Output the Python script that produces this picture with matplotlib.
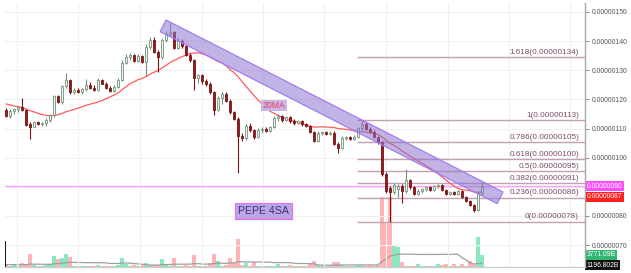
import matplotlib
matplotlib.use("Agg")
import matplotlib.pyplot as plt
import numpy as np
from matplotlib.patches import Polygon

plt.rcParams['font.family'] = ['Liberation Sans', 'DejaVu Sans']

# ---- data (prices in units of 1e-8) ----
opens = [116.4,114.3,116.0,116.6,117.3,116.4,111.6,110.6,112.2,111.5,111.9,113.0,114.5,121.0,119.0,124.6,126.6,122.5,123.3,122.6,
         123.4,124.8,124.0,123.2,126.6,125.4,124.0,123.0,124.4,126.8,132.6,134.6,135.2,133.2,135.0,133.0,138.0,140.4,136.2,134.5,
         140.4,142.6,143.2,137.8,140.2,138.4,135.4,133.6,127.3,128.4,126.4,125.2,122.5,116.5,120.5,121.8,119.6,115.5,113.4,107.5,
         106.8,111.0,109.4,107.0,109.6,110.0,109.2,110.6,113.6,114.2,113.0,113.8,112.6,111.8,112.6,111.4,110.8,108.8,105.8,108.4,
         108.8,108.2,108.6,104.6,103.4,106.8,107.0,106.4,107.2,110.2,111.4,110.0,108.8,107.0,105.2,94.4,89.6,88.2,89.4,90.2,
         88.4,92.2,90.0,87.6,88.6,89.2,89.8,89.0,90.2,90.6,89.0,87.6,88.2,87.4,88.4,86.4,85.2,83.8,82.0,87.8]
highs = [117.0,116.8,117.0,117.8,120.5,116.8,112.2,112.6,112.6,112.4,113.5,115.0,121.5,121.6,125.0,129.1,127.0,123.8,123.9,123.8,
         127.0,126.0,124.8,127.4,127.0,125.8,124.6,125.0,127.2,133.5,135.6,136.0,135.6,135.6,135.4,139.0,141.5,141.5,137.0,141.0,
         143.6,146.2,143.6,141.0,140.6,138.8,135.8,134.0,128.8,128.8,127.0,125.8,123.0,121.0,122.5,122.4,120.0,116.0,114.0,108.6,
         111.6,111.8,109.8,110.2,110.6,110.6,111.0,114.2,115.0,114.6,114.4,114.2,113.2,113.0,113.0,111.8,111.2,109.2,109.2,109.0,
         109.2,109.0,109.0,105.2,107.4,107.4,107.4,107.6,110.6,112.9,112.2,110.6,109.4,107.4,105.6,95.0,90.2,91.4,90.8,90.8,
         96.1,92.6,90.4,89.2,89.6,90.4,90.4,90.6,91.0,91.0,89.4,88.6,88.6,88.8,88.8,86.8,85.6,84.0,88.4,91.6]
lows = [113.8,113.5,115.0,115.6,116.0,111.0,106.4,110.4,111.2,110.8,111.0,112.4,114.0,118.6,118.5,124.0,122.0,122.0,122.2,122.0,
        123.0,123.6,122.8,122.8,125.2,123.5,122.6,122.6,124.0,126.2,132.0,133.4,132.8,132.8,132.6,128.0,137.4,135.8,129.5,134.0,
        139.8,141.6,137.2,137.2,137.8,135.0,133.0,123.2,125.6,125.3,124.6,121.8,114.6,116.0,118.5,119.0,115.0,112.8,94.7,105.8,
        106.2,108.8,106.4,106.6,108.6,108.8,108.8,110.2,112.6,112.4,112.6,112.0,111.2,111.4,111.0,110.4,108.4,105.2,105.4,107.6,
        107.8,107.8,104.2,101.6,103.0,106.0,106.0,106.0,106.8,109.6,109.4,108.4,106.6,104.8,93.8,88.0,78.0,87.4,86.6,84.4,
        88.0,89.4,87.0,87.0,88.0,88.6,88.6,88.6,89.6,88.6,87.2,87.0,87.0,87.0,86.0,84.6,83.4,81.3,81.6,87.2]
closes = [114.3,116.0,116.6,117.3,116.4,111.3,110.6,112.2,111.5,111.9,113.0,114.5,121.0,119.0,124.6,126.6,122.5,123.3,122.6,123.4,
          124.8,124.0,123.2,126.6,125.4,124.0,123.0,124.4,126.8,132.6,134.6,135.2,133.2,135.0,133.0,138.0,140.4,136.2,134.5,140.4,
          142.6,143.2,137.8,140.2,138.4,135.4,133.6,127.3,128.4,126.4,125.2,122.5,116.5,120.5,121.8,119.6,115.5,113.4,107.5,106.8,
          111.0,109.4,107.0,109.6,110.0,109.2,110.6,113.6,114.2,113.0,113.8,112.6,111.8,112.6,111.4,110.8,108.8,105.8,108.4,108.8,
          108.2,108.6,104.6,103.4,106.8,107.0,106.4,107.2,110.2,111.4,110.0,108.8,107.0,105.2,94.4,88.6,88.2,90.6,90.4,88.4,
          92.2,90.0,87.6,88.6,89.2,89.8,89.0,90.2,90.6,89.0,87.6,88.2,87.4,88.4,86.4,85.2,83.8,82.0,87.8,90.2]
# closes before the visible window (used only for the 20-period moving average)
prior_closes = [123.0,123.5,122.5,122.0,121.5,122.0,121.0,120.5,120.0,119.0,118.0,117.0,116.0,115.5,115.0,114.5,115.0,114.0,114.5]

# volume in billions
volumes = [940,310,630,310,1260,630,4080,630,310,310,630,940,3450,2510,2830,4080,3140,310,310,310,
           310,310,310,630,310,310,310,310,630,2830,940,310,630,310,630,1260,630,630,630,2510,
           940,310,2830,310,310,630,310,3770,310,310,310,1260,4080,1880,310,630,2830,1260,8790,630,
           1260,310,1570,310,310,310,310,310,940,310,310,630,310,310,310,310,1260,1880,630,310,
           310,310,1570,1570,630,310,310,310,630,630,310,630,310,630,21980,14130,21980,6590,6280,1570,
           310,310,310,940,310,310,310,310,940,630,940,310,940,310,940,310,1880,940,9420,3771]
prior_volumes = [630,940,630,940,630,630,940,630,940,630,940,630,630,940,630,940,630,630,940]

fib_ratios = [0, 0.236, 0.382, 0.5, 0.618, 0.786, 1, 1.618]
fib_low, fib_high = 78.0, 112.9
price_ticks = [70, 80, 90, 100, 110, 120, 130, 140, 150]
last_price = 90.26
right_labels = [("0.00000090", 90.26, "#ff4dff"), ("0.00000087", 86.65, "#ff2020")]
vol_labels = [("3771.09B", 3771, "#2eb872"), ("1196.802B", 620, "#111111")]
# descending channel drawing: (bar index, price) anchors of the upper edge, band height in price
channel_start = (40.0, 147.25)
channel_end = (124.25, 88.2)
channel_depth = 4.0
channel_shift = 1.45

N = len(closes)
idx = np.arange(N)
o = np.array(opens); h = np.array(highs); l = np.array(lows); c = np.array(closes)
up = c >= o

allc = np.array(prior_closes + closes)
ma20 = np.convolve(allc, np.ones(20) / 20, mode='valid')
allv = np.array(prior_volumes + volumes, dtype=float)
vma20 = np.convolve(allv, np.ones(20) / 20, mode='valid')

# ---- figure ----
W, H = 631, 273
fig = plt.figure(figsize=(W / 100, H / 100), dpi=100)
fig.patch.set_facecolor('white')
ax = fig.add_axes([5 / W, 6 / H, 580 / W, 264 / H])
vax = ax.twinx()
ax.set_zorder(2)
ax.patch.set_visible(False)
vax.set_zorder(1)

ax.set_xlim(-0.25, 144.75)
ax.set_ylim(62.45, 153.09)
vax.set_ylim(0, 264 * 314)

# grid
grid_x = [2.75, 18.1, 33.5, 48.9, 64.25, 79.6, 95.0, 110.4, 125.75, 141.1]
for gx in grid_x:
    ax.axvline(gx, color='#f0f0f0', lw=0.8, zorder=0)
for gy in price_ticks:
    ax.axhline(gy, color='#f0f0f0', lw=0.8, zorder=0)

# volume
vcol = np.where(up, '#8de8bf', '#ffb5b5')
vax.bar(idx, volumes, width=0.78, color=vcol, linewidth=0)
vax.plot(idx, vma20, color='#a0a0a0', lw=0.9)
vax.set_yticks([])
for s in vax.spines.values():
    s.set_visible(False)

# magenta price line
ax.axhline(last_price, color='#ffa0ff', lw=1.0, zorder=1)

# fib levels
for r in fib_ratios:
    lv = fib_low + r * (fib_high - fib_low)
    ax.plot([87.75, 144.75], [lv, lv], color='#c4a0b2', lw=1.0, zorder=2, solid_capstyle='butt')
    ax.text(143.25, lv + 0.45, f"{r:g}({lv * 1e-8:.8f})", ha='right', va='bottom',
            fontsize=5.9, color='#7a4d68', zorder=3)

# MA line
ax.plot(idx, ma20, color='#ff5a5a', lw=0.9, zorder=4)

# candles
wick_col = np.where(up, '#6f9279', '#7c1414')
ax.vlines(idx, l, h, colors=wick_col, lw=0.8, zorder=5)
body_bottom = np.minimum(o, c)
body_h = np.maximum(np.abs(c - o), 0.25)
ax.bar(idx, body_h, bottom=body_bottom, width=0.72,
       color=np.where(up, '#eef4ef', '#8e1b1b'),
       edgecolor=np.where(up, '#6f9279', '#7c1414'), linewidth=0.6, zorder=6)

# channel
(x0, y0), (x1, y1) = channel_start, channel_end
poly = [(x0, y0), (x1, y1), (x1 - channel_shift, y1 - channel_depth), (x0 - channel_shift, y0 - channel_depth)]
ax.add_patch(Polygon(poly, closed=True, facecolor=(0.56, 0.46, 0.80, 0.55),
                     edgecolor='#a57cf0', lw=0.9, zorder=7))

# annotations
ax.text(67.0, 117.9, "20MA", fontsize=6.2, color='#f03c50', ha='center', va='center', zorder=8,
        bbox=dict(boxstyle='square,pad=0.15', fc='#c8b6ea', ec='none'))
ax.text(64.4, 81.7, "PEPE 4SA", fontsize=7.6, color='#43307f', ha='center', va='center', zorder=8,
        bbox=dict(boxstyle='square,pad=0.3', fc='#b9a6e2', ec='#e86cf2', lw=0.8))

# left marker line in volume area
ax.axvline(-0.25, ymin=0, ymax=0.095, color='black', lw=1.3, zorder=9)

# axes styling (the 0.00000090 tick label sits under the magenta price box, as in the reference)
ax.set_xticks([])
ax.yaxis.tick_right()
ax.set_yticks(price_ticks)
ax.set_yticklabels(["" if v == 90 else f"{v * 1e-8:.8f}" for v in price_ticks])
ax.tick_params(axis='y', direction='out', length=3, width=0.7, color='#888888',
               labelsize=4.9, labelcolor='#555555', pad=1.5)
for side in ['top', 'left']:
    ax.spines[side].set_visible(False)
ax.spines['right'].set_color('#a8a8a8')
ax.spines['right'].set_linewidth(1.0)
ax.spines['bottom'].set_color('#cccccc')
ax.spines['bottom'].set_linewidth(1.0)

# right-side value boxes
for txt, val, col in right_labels:
    ax.annotate(txt, xy=(1.0, val), xycoords=ax.get_yaxis_transform(), xytext=(1.5, 0),
                textcoords='offset points', ha='left', va='center', fontsize=4.9, color='white',
                zorder=10, annotation_clip=False,
                bbox=dict(boxstyle='square,pad=0.22', fc=col, ec='none'))
for txt, val, col in vol_labels:
    vax.annotate(txt, xy=(1.0, val), xycoords=vax.get_yaxis_transform(), xytext=(1, 0),
                 textcoords='offset points', ha='left', va='center', fontsize=4.9, color='white',
                 zorder=10, annotation_clip=False,
                 bbox=dict(boxstyle='square,pad=0.22', fc=col, ec='none'))

fig.savefig('out.png', dpi=100, facecolor='white')
